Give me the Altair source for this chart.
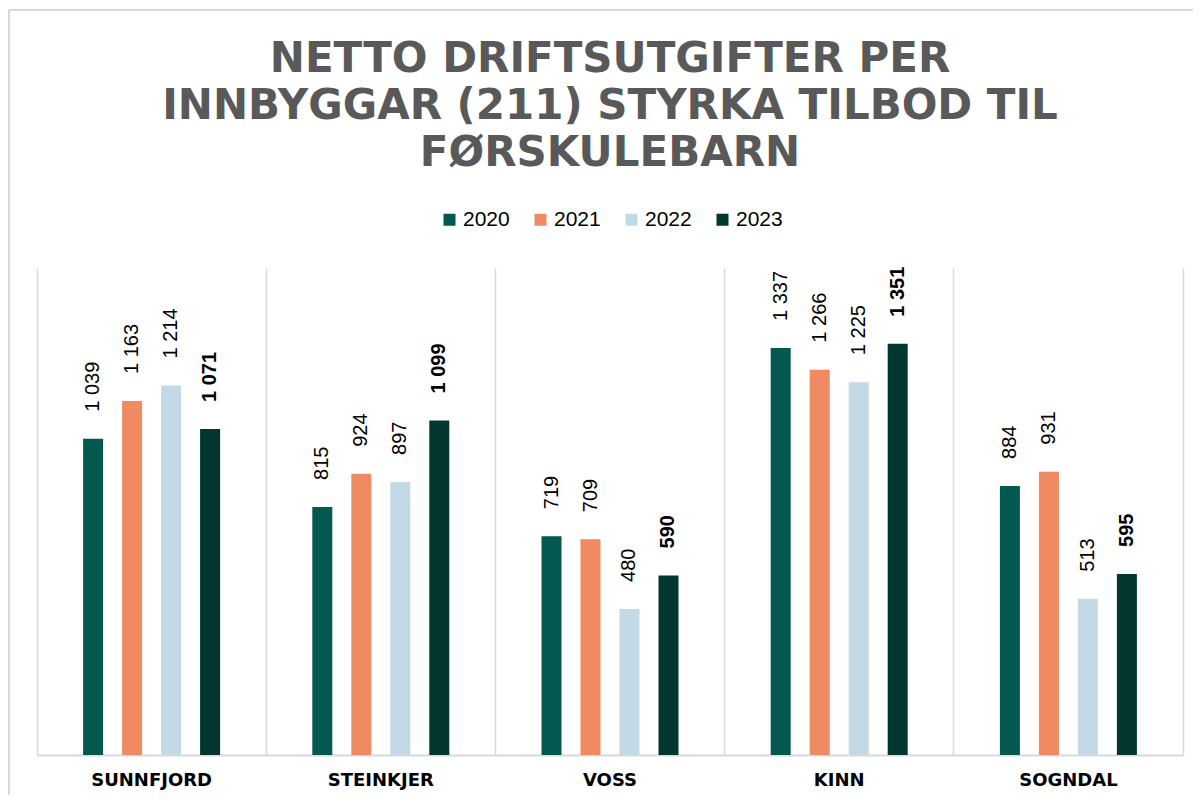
import altair as alt
import pandas as pd

municipalities = ["SUNNFJORD", "STEINKJER", "VOSS", "KINN", "SOGNDAL"]
years = ["2020", "2021", "2022", "2023"]
v2020 = [1039, 815, 719, 1337, 884]
v2021 = [1163, 924, 709, 1266, 931]
v2022 = [1214, 897, 480, 1225, 513]
v2023 = [1071, 1099, 590, 1351, 595]
colors = ["#03584F", "#EF8A62", "#C3DAE6", "#02372F"]
title_lines = ["NETTO DRIFTSUTGIFTER PER", "INNBYGGAR (211) STYRKA TILBOD TIL", "FØRSKULEBARN"]

rows = []
for year, vals in zip(years, [v2020, v2021, v2022, v2023]):
    for m, v in zip(municipalities, vals):
        rows.append({"kommune": m, "year": year, "value": v,
                     "label": f"{v:,}".replace(",", " ")})
df = pd.DataFrame(rows)

GRID = "#d9d9d9"
PAD_X = 0.062

base = alt.Chart(df).encode(
    x=alt.X("kommune:N", sort=municipalities,
            scale=alt.Scale(paddingInner=PAD_X, paddingOuter=PAD_X / 2),
            axis=alt.Axis(title=None, labelAngle=0, ticks=False, labelPadding=16,
                          labelFont="DejaVu Sans", labelFontSize=18, labelFontWeight="bold",
                          labelColor="#000000", domainColor=GRID, domainWidth=2,
                          grid=True, gridColor=GRID, gridWidth=1.5,
                          bandPosition=-(PAD_X / 2) / (1 - PAD_X))),
    xOffset=alt.XOffset("year:N", sort=years,
                        scale=alt.Scale(paddingInner=0.487, paddingOuter=1)),
    y=alt.Y("value:Q", scale=alt.Scale(domain=[0, 1600]),
            axis=alt.Axis(orient="right", title=None, labels=False, ticks=False, grid=False,
                          domain=True, domainColor=GRID, domainWidth=1.5)),
)

bars = base.mark_bar().encode(
    color=alt.Color("year:N", sort=years,
                    scale=alt.Scale(domain=years, range=colors),
                    legend=alt.Legend(title=None, orient="none", direction="horizontal",
                                      legendX=402, legendY=-59,
                                      symbolType="square", symbolSize=144, symbolStrokeWidth=0,
                                      labelFont="Liberation Sans", labelFontSize=21,
                                      labelColor="#000000", labelOffset=3, columnPadding=20))
)

text_norm = base.transform_filter(alt.datum.year != "2023").mark_text(
    angle=270, align="left", baseline="middle", dx=27,
    font="Liberation Sans", fontSize=20, color="#000000"
).encode(text="label:N")

text_bold = base.transform_filter(alt.datum.year == "2023").mark_text(
    angle=270, align="left", baseline="middle", dx=27,
    font="Liberation Sans", fontSize=20, fontWeight="bold", color="#000000"
).encode(text="label:N")

frame_data = alt.Data(values=[{"b": 1}])
border_top = alt.Chart(frame_data).mark_rule(color=GRID, strokeWidth=2).encode(
    x=alt.value(-28), x2=alt.value(1400), y=alt.value(-258))
border_left = alt.Chart(frame_data).mark_rule(color=GRID, strokeWidth=2).encode(
    x=alt.value(-28), y=alt.value(-258), y2=alt.value(900))

chart = alt.layer(border_top, border_left, bars, text_norm, text_bold).properties(
    width=1146, height=487,
    background="white",
    title=alt.TitleParams(text=title_lines, font="DejaVu Sans", fontSize=42, fontWeight="bold",
                          color="#595959", anchor="middle", lineHeight=47, baseline="top",
                          offset=-166),
    autosize=alt.AutoSizeParams(type="none"),
    padding={"left": 29, "top": 260, "right": 10, "bottom": 40},
).configure_view(stroke="transparent", strokeWidth=0)

chart.save("out.html", embed_options={"renderer": "svg", "actions": False})
